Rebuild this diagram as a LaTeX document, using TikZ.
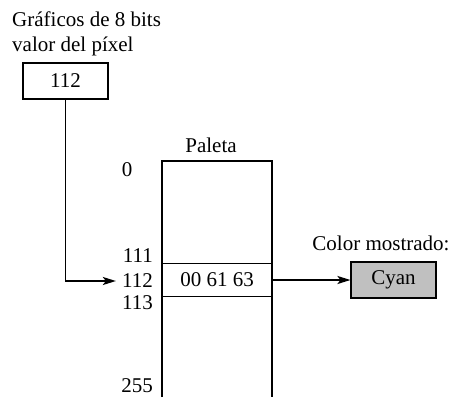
\documentclass[tikz,border=0pt]{standalone}
\usepackage{fontspec}
\setmainfont{Liberation Serif}
\usetikzlibrary{arrows.meta,positioning}
\definecolor{shown}{RGB}{192,192,192}

\begin{document}
\begin{tikzpicture}[x=1pt,y=-1pt,
  lbl/.style={font=\fontsize{21}{24}\selectfont, inner sep=0pt},
  cell/.style={lbl, draw, line width=1.1pt},
  conn/.style={line width=1.9pt, -{Stealth[length=13pt,width=8pt,inset=3pt]}}]
\useasboundingbox (0,0) rectangle (453,397);
% pixel value
\node[lbl, anchor=base west] (title) at (12,26) {Gráficos de 8 bits};
\node[lbl, anchor=base west] (title2) at (12,51) {valor del píxel};
\node[cell, minimum width=85, minimum height=36] (pix) at (65.5,81) {112};
% palette
\coordinate (ptl) at (162,161); \coordinate (ptr) at (272,161);
\coordinate (pbl) at (162,397); \coordinate (pbr) at (272,397);
\draw[line width=1.1pt] (pbl) -- (ptl) -- (ptr) -- (pbr);
\node[lbl] (paleta) at (211,145) {Paleta};
\node[cell, minimum width=110, minimum height=33] (entry) at (217,280) {00 61 63};
\node[lbl] (i0) at (127,170) {0};
\foreach \n/\y in {111/256,112/281,113/303,255/386}{\node[lbl, anchor=east] (i\n) at (153,\y) {\n};}
% shown colour
\node[lbl] (shownlbl) at (381,243) {Color mostrado:};
\node[cell, fill=shown, minimum width=85, minimum height=36] (cyan) at (393.5,280) {Cyan};
% connectors
\draw[conn] (pix.south) |- ([xshift=-6pt]i112.west);
\draw[conn] (entry.east) -- (cyan.west);
\end{tikzpicture}
\end{document}
